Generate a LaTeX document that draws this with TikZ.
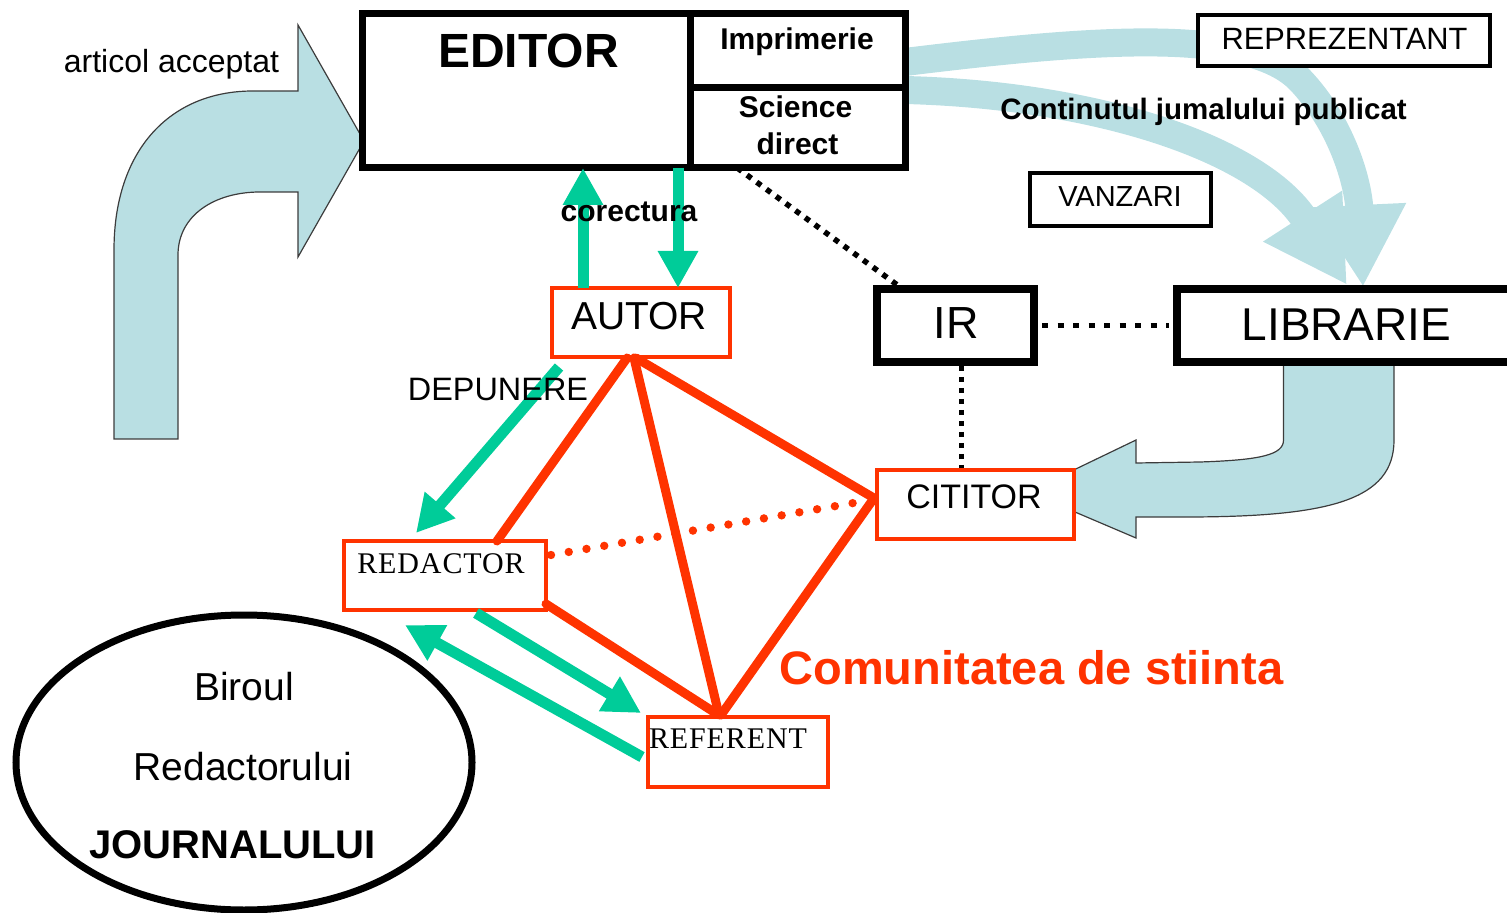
\documentclass[tikz,border=0pt]{standalone}
\usepackage{fontspec}
\setmainfont{Liberation Sans}
\newfontfamily\serifface{Liberation Serif}[LetterSpace=3]
\usetikzlibrary{arrows.meta,calc,shapes.geometric}
\pgfdeclarelayer{bg}
\pgfsetlayers{bg,main}
\definecolor{lblue}{RGB}{185,223,227}
\definecolor{grn}{RGB}{0,204,153}
\definecolor{rd}{RGB}{255,51,0}
\definecolor{outl}{RGB}{60,60,60}
\begin{document}
\begin{tikzpicture}[x=0.5pt,y=-0.5pt,
  blk/.style={draw=black, fill=white, line width=3.5pt, rectangle, inner sep=0pt, outer sep=0pt},
  thinblk/.style={draw=black, fill=white, line width=1.75pt, rectangle, inner sep=0pt, outer sep=0pt},
  redbox/.style={draw=rd, fill=white, line width=1.75pt, rectangle, inner sep=0pt, outer sep=0pt},
  txt/.style={inner sep=0pt, anchor=base},
  redline/.style={draw=rd, line width=4.5pt, line cap=round},
  reddots/.style={draw=rd, line width=4.2pt, line cap=round, dash pattern=on 0pt off 9pt},
  blackdots/.style={draw=black, line width=2.75pt, dash pattern=on 2.75pt off 3.25pt},
  garrow/.style={draw=grn, line width=5.5pt, -{Triangle[width=19pt,length=18.5pt]}},
  barrow/.style={draw=lblue, line width=14pt, -{Triangle[width=44pt,length=41pt]}},
  bshape/.style={fill=lblue, draw=outl, line width=0.6pt},
]
\useasboundingbox (0,0) rectangle (1507,913);

% boxes
\node[blk, minimum width=164pt, minimum height=77pt] (editor) at (526,91) {};
\node[blk, minimum width=107.5pt, minimum height=37pt] (imp) at (797.5,51) {};
\node[blk, minimum width=107.5pt, minimum height=40pt] (sci) at (797.5,128) {};
\node[thinblk, minimum width=146pt, minimum height=25.5pt] (repr) at (1344,40.5) {};
\node[thinblk, minimum width=90.5pt, minimum height=26.5pt] (vanz) at (1120.5,199.5) {};
\node[blk, line width=3.75pt, minimum width=78.5pt, minimum height=36.5pt] (ir) at (955.5,325.5) {};
\node[blk, line width=3.75pt, minimum width=170pt, minimum height=36.5pt] (lib) at (1347,325.5) {};
\node[redbox, minimum width=89pt, minimum height=34.5pt] (autor) at (641,322.5) {};
\node[redbox, minimum width=98.5pt, minimum height=34.5pt] (cit) at (975.5,504.5) {};
\node[redbox, minimum width=101pt, minimum height=34.5pt] (redac) at (445,575.5) {};
\node[redbox, minimum width=90pt, minimum height=35pt] (refer) at (738,752) {};
\node[draw, line width=3.5pt, ellipse, minimum width=228pt, minimum height=147.5pt, inner sep=0pt, outer sep=0pt] (birou) at (244,762.5) {};

% light blue block arrows (behind)
\begin{pgfonlayer}{bg}
\draw[bshape] (114,439) -- (114,250) .. controls (114,150) and (170,91) .. (253,91) -- (298,91) -- (298,25)
  -- ([shift={(2,50)}]editor.west) -- (298,257) -- (298,192) -- (260,192)
  .. controls (215,192) and (178,215) .. (178,255) -- (178,439) -- cycle;
\draw[bshape] ([shift={(-63.5,0)}]lib.south) -- (1283.5,440) .. controls (1283.5,455) and (1260,460) .. (1200,462)
  -- (1136,463) -- (1136,440) -- (1028,492) -- (1136,538) -- (1136,517) -- (1185,517)
  .. controls (1330,517) and (1394,500) .. (1394,440) -- ([shift={(47,0)}]lib.south) -- cycle;
\draw[barrow] ([shift={(0,11)}]imp.east) .. controls (1100,38) and (1250,28) .. (1300,80)
  .. controls (1340,122) and (1358,180) .. ([shift={(16,-2)}]lib.north);
\draw[barrow] ([shift={(0,-38)}]sci.east) .. controls (1100,95) and (1260,150) .. ([shift={(0,-4)}]lib.north);
\end{pgfonlayer}

% red community lines
\draw[redline] ([shift={(-14,1)}]autor.south) -- ([shift={(52,0)}]redac.north);
\draw[redline] ([shift={(-7,1)}]autor.south) -- ([shift={(-19,-2)}]refer.north);
\draw[redline] ([shift={(-5,1)}]autor.south) -- ([shift={(-4,-7)}]cit.west);
\draw[redline] ([shift={(0,-6)}]redac.south east) -- ([shift={(-21,-3)}]refer.north);
\draw[redline] ([shift={(-4,-5)}]cit.west) -- ([shift={(-17,-2)}]refer.north);
\draw[reddots] ([shift={(5,14)}]redac.north east) -- ([shift={(-9,-4)}]cit.west);

% black dotted links
\draw[blackdots] ($(sci.south west)!0.22!(sci.south east)$) -- ([shift={(23,-2)}]ir.north west);
\draw[blackdots, dash pattern=on 3pt off 4.75pt, shorten <=4pt, shorten >=4pt] (ir.east) -- (lib.west);
\coordinate (irb) at ([shift={(6,0)}]ir.south);
\draw[blackdots, dash pattern=on 2.75pt off 2.75pt, shorten <=2pt, shorten >=1pt] (irb) -- (irb |- cit.north);

% green arrows
\coordinate (gu) at ([shift={(31,0)}]autor.north west);
\coordinate (gd) at ([shift={(152,0)}]editor.south);
\draw[garrow] (gu) -- (gu |- editor.south);
\draw[garrow] (gd) -- (gd |- autor.north);
\draw[garrow] ([shift={(7,10)}]autor.south west) -- ([shift={(72,-8)}]redac.north west);
\draw[garrow] ([shift={(132,3)}]redac.south west) -- ([shift={(-7,-4)}]refer.north west);
\draw[garrow] ([shift={(-6,5)}]refer.west) -- ([shift={(61,15)}]redac.south west);

% texts
\node[txt, font=\fontsize{16}{16}\selectfont] (tArt) at (171.5,73) {articol acceptat};
\node[txt, font=\bfseries\fontsize{24}{24}\selectfont] (tEd) at (528.5,68) {EDITOR};
\node[txt, font=\bfseries\fontsize{15}{15}\selectfont] (tImp) at (797,50) {Imprimerie};
\node[txt, font=\bfseries\fontsize{15}{15}\selectfont] (tSci1) at (795.5,118) {Science};
\node[txt, font=\bfseries\fontsize{15}{15}\selectfont] (tSci2) at (797.5,155) {direct};
\node[txt, font=\bfseries\fontsize{15}{15}\selectfont] (tCor) at (629,222) {corectura};
\node[txt, font=\fontsize{15.4}{15.4}\selectfont] (tRep) at (1344.5,50) {REPREZENTANT};
\node[txt, font=\bfseries\fontsize{14.75}{15}\selectfont] (tCont) at (1203.5,120) {Continutul jumalului publicat};
\node[txt, font=\fontsize{14.5}{14.5}\selectfont] (tVan) at (1120,207) {VANZARI};
\node[txt, font=\fontsize{22.5}{22.5}\selectfont] (tIR) at (956,339) {IR};
\node[txt, font=\fontsize{23}{23}\selectfont] (tLib) at (1346.5,341) {LIBRARIE};
\node[txt, font=\fontsize{19.5}{19.5}\selectfont] (tAut) at (639,330) {AUTOR};
\node[txt, font=\fontsize{17}{17}\selectfont] (tCit) at (974,509) {CITITOR};
\node[txt, font=\fontsize{16.2}{16.2}\selectfont] (tDep) at (498,401) {DEPUNERE};
\node[txt, font=\serifface\fontsize{15}{15}\selectfont] (tRed) at (441,573) {REDACTOR};
\node[txt, font=\serifface\fontsize{15}{15}\selectfont] (tRef) at (728,748) {REFERENT};
\node[txt, font=\bfseries\fontsize{23.5}{23.5}\selectfont, text=rd] (tCom) at (1031.5,684) {Comunitatea de stiinta};
\node[txt, font=\fontsize{19.5}{19.5}\selectfont] (tBir) at (244,700) {Biroul};
\node[txt, font=\fontsize{19.5}{19.5}\selectfont] (tRdl) at (243,780) {Redactorului};
\node[txt, font=\bfseries\fontsize{20}{20}\selectfont] (tJou) at (232.5,858) {JOURNALULUI};
\end{tikzpicture}
\end{document}
